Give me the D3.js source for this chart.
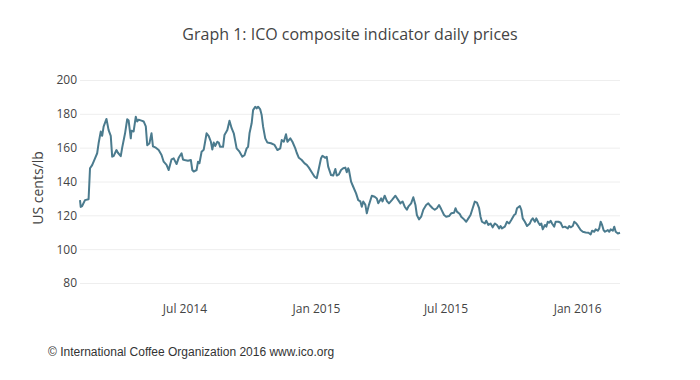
<!DOCTYPE html>
<html>
<head>
<meta charset="utf-8">
<script src="https://cdn.jsdelivr.net/npm/d3@7"></script>
<style>
  html, body { margin: 0; padding: 0; background: #fff; }
  svg { display: block; }
</style>
</head>
<body>
<div id="chart"></div>
<script>
const dates = [
  "2014-02-05","2014-02-06","2014-02-08","2014-02-12","2014-02-17","2014-02-19","2014-02-22","2014-02-26",
  "2014-03-01","2014-03-03","2014-03-06","2014-03-08","2014-03-10","2014-03-14","2014-03-17","2014-03-20",
  "2014-03-22","2014-03-24","2014-03-28","2014-03-30","2014-04-03","2014-04-05","2014-04-09","2014-04-12",
  "2014-04-14","2014-04-17","2014-04-18","2014-04-21","2014-04-24","2014-04-26","2014-04-28","2014-05-02",
  "2014-05-05","2014-05-08","2014-05-10","2014-05-13","2014-05-16","2014-05-18","2014-05-22","2014-05-26",
  "2014-05-30","2014-06-02","2014-06-06","2014-06-09","2014-06-13","2014-06-16","2014-06-20","2014-06-23",
  "2014-06-27","2014-06-29",
  "2014-07-01","2014-07-06","2014-07-10","2014-07-12","2014-07-14","2014-07-18","2014-07-20","2014-07-22",
  "2014-07-25","2014-07-28","2014-08-01","2014-08-04","2014-08-07","2014-08-09","2014-08-11","2014-08-13",
  "2014-08-16","2014-08-18","2014-08-20","2014-08-24","2014-08-26","2014-08-30","2014-09-02","2014-09-05",
  "2014-09-08","2014-09-12","2014-09-16","2014-09-20","2014-09-23","2014-09-26","2014-09-28","2014-09-30",
  "2014-10-03","2014-10-05","2014-10-08","2014-10-10","2014-10-12","2014-10-15","2014-10-17","2014-10-19",
  "2014-10-22","2014-10-25","2014-10-30","2014-11-04","2014-11-08","2014-11-12","2014-11-14","2014-11-17",
  "2014-11-20","2014-11-22","2014-11-26","2014-11-29","2014-12-03",
  "2014-12-05","2014-12-08","2014-12-12","2014-12-16","2014-12-19","2014-12-22","2014-12-26","2014-12-30",
  "2015-01-02","2015-01-04","2015-01-08","2015-01-10","2015-01-14","2015-01-16","2015-01-18","2015-01-22",
  "2015-01-25","2015-01-28","2015-01-30","2015-02-02","2015-02-05","2015-02-08","2015-02-11","2015-02-13",
  "2015-02-15","2015-02-16","2015-02-19","2015-02-22","2015-02-26","2015-03-01","2015-03-04","2015-03-06",
  "2015-03-08","2015-03-11","2015-03-13","2015-03-16","2015-03-20","2015-03-24","2015-03-27","2015-03-29",
  "2015-04-02","2015-04-04","2015-04-07","2015-04-10","2015-04-13","2015-04-17","2015-04-22","2015-04-26",
  "2015-04-29","2015-05-02","2015-05-05",
  "2015-05-08","2015-05-10","2015-05-14","2015-05-17","2015-05-20","2015-05-22","2015-05-25","2015-05-28",
  "2015-05-31","2015-06-04","2015-06-07","2015-06-10","2015-06-13","2015-06-16","2015-06-19","2015-06-22",
  "2015-06-25","2015-06-29","2015-07-02","2015-07-06","2015-07-09","2015-07-13","2015-07-15","2015-07-17",
  "2015-07-21","2015-07-23","2015-07-27","2015-07-30","2015-08-02","2015-08-05","2015-08-08","2015-08-11",
  "2015-08-14","2015-08-17","2015-08-19","2015-08-21","2015-08-25","2015-08-27","2015-08-30","2015-09-02",
  "2015-09-05","2015-09-08","2015-09-11","2015-09-14","2015-09-16","2015-09-18","2015-09-22","2015-09-25",
  "2015-09-28","2015-10-01","2015-10-05","2015-10-07",
  "2015-10-09","2015-10-13","2015-10-15","2015-10-17","2015-10-20","2015-10-23","2015-10-27","2015-10-29",
  "2015-10-31","2015-11-03","2015-11-05","2015-11-08","2015-11-10","2015-11-12","2015-11-14","2015-11-17",
  "2015-11-19","2015-11-21","2015-11-23","2015-11-25","2015-11-27","2015-11-30","2015-12-02","2015-12-06",
  "2015-12-09","2015-12-12","2015-12-15","2015-12-19","2015-12-21","2015-12-23","2015-12-26","2015-12-28",
  "2015-12-31","2016-01-03","2016-01-06","2016-01-09","2016-01-13","2016-01-17","2016-01-20","2016-01-22",
  "2016-01-25","2016-01-27","2016-01-30","2016-02-01","2016-02-03","2016-02-05","2016-02-07","2016-02-09",
  "2016-02-13","2016-02-15","2016-02-17","2016-02-20","2016-02-22","2016-02-24","2016-02-27","2016-03-01"
];
const prices = [
  129,125,125.5,129,129.5,147.8,149.7,153.7,
  156.7,162.6,169.5,167,172.4,177,170.4,167,
  154.7,155,158.6,157,155,160,168.5,176.8,
  176,165.5,170,169.6,178.3,175.5,176.5,176,
  175.5,172.6,161.5,162.5,168.5,160.8,160,158.6,
  155.7,151.7,149.8,146.8,153.1,153.7,150.3,154,
  156.7,153,
  152.7,152.3,152.7,146.8,145.9,146.8,151.7,150.8,
  157.6,158.8,168.5,166.8,163.5,158.9,163,161,
  163.5,163,160.5,160.5,167.5,170.4,175.9,171.5,
  168.5,159.6,157.6,154.7,155.5,159.6,160.5,168.5,
  174.4,182.2,184.2,183.2,184.2,182.6,179.3,172.4,
  165.5,163,162.6,161.6,158.6,159.6,164.5,163.5,
  167.9,163.5,165.5,163.5,159.6,
  157,154,152.7,150.7,149.8,148.2,145.5,142.8,
  141.9,145.8,153.7,155.2,154,154.6,148.8,143.8,
  143.5,147.4,143.5,144.2,146.8,147.8,148.2,145.5,
  147.8,146.8,139.9,136.9,133,129,128.2,125.1,
  128.2,126.2,121.2,126.2,131.6,131,130,127.1,
  130,128.2,131.6,128.5,127.1,129,131.6,129,
  127.1,128.2,125.1,
  123.3,125.1,127.1,130.7,126.1,120.2,117.6,119.2,
  123.3,126.1,127.1,125.5,124.2,123.3,124.2,126.1,
  123.7,120.2,119.2,119.6,121.2,121.5,124.2,122.2,
  120.8,119.2,117.6,116.2,118.2,120.2,124.2,128.1,
  127.5,124.2,119.2,116.2,115.2,116.8,114.3,115.2,
  112.9,115.2,114.3,112.3,113.7,112.3,113.3,116.2,
  115.2,117.2,120.2,120.8,
  124.2,125.5,123.3,118.2,116.2,113.7,115.2,117.2,
  118.2,116.2,118.2,115.6,114.3,115.2,111.7,114.3,
  113.3,116.2,115.6,116.8,115.2,113.3,116.2,116.2,
  115.6,112.9,113.3,112.3,113.7,112.9,113.7,116.2,
  115.2,113.3,111.3,110.3,109.9,109.7,108.7,110.9,
  110.3,111.7,110.9,112.3,116.2,114.3,111.3,110.3,
  111.3,110.3,111.7,110.9,113.3,110.3,109.3,109.7
];
const yTicks = [80, 100, 120, 140, 160, 180, 200];
const xTicks = ["2014-07-01", "2015-01-01", "2015-07-01", "2016-01-01"];
const xTickLabels = ["Jul 2014", "Jan 2015", "Jul 2015", "Jan 2016"];
const titleText = "Graph 1: ICO composite indicator daily prices";
const yTitle = "US cents/lb";
const footerText = "\u00A9 International Coffee Organization 2016 www.ico.org";

const W = 700, H = 380;
const parse = d3.utcParse("%Y-%m-%d");
const data = dates.map((d, i) => ({ date: parse(d), value: prices[i] }));

const svg = d3.select("#chart").append("svg").attr("width", W).attr("height", H);

const x = d3.scaleUtc().domain(d3.extent(data, d => d.date)).range([80, 620]);
const y = d3.scaleLinear().domain([80, 200]).range([283, 80]);

const tickFont = "'Open Sans', sans-serif";
const col = "#444";

// grid
svg.append("g").selectAll("line").data(yTicks).join("line")
  .attr("x1", 80).attr("x2", 620)
  .attr("y1", d => y(d) + 0.5).attr("y2", d => y(d) + 0.5)
  .attr("stroke", "#eee").attr("stroke-width", 1);

// y axis
const yAxis = d3.axisLeft(y).tickValues(yTicks).tickSize(0).tickPadding(3);
svg.append("g").attr("transform", "translate(80,0)").call(yAxis)
  .call(g => g.select(".domain").remove())
  .call(g => g.selectAll("text").attr("font-family", tickFont).attr("font-size", 12).attr("fill", col));

// x axis
const xAxis = d3.axisBottom(x).tickValues(xTicks.map(parse)).tickSize(0).tickPadding(0)
  .tickFormat((d, i) => xTickLabels[i]);
svg.append("g").attr("transform", "translate(0,300)").call(xAxis)
  .call(g => g.select(".domain").remove())
  .call(g => g.selectAll("text").attr("font-family", tickFont).attr("font-size", 12).attr("fill", col)
    .attr("dy", "0.71em").attr("y", 4));

// line
const line = d3.line().x(d => x(d.date)).y(d => y(d.value));
svg.append("path").datum(data)
  .attr("d", line)
  .attr("fill", "none")
  .attr("stroke", "#4b7b8e")
  .attr("stroke-width", 2)
  .attr("stroke-linejoin", "round");

// title
svg.append("text").attr("x", 350).attr("y", 40).attr("text-anchor", "middle")
  .attr("font-family", tickFont).attr("font-size", 16).attr("fill", col).text(titleText);

// y title
svg.append("text").attr("transform", "translate(43,188) rotate(-90)").attr("text-anchor", "middle")
  .attr("font-family", tickFont).attr("font-size", 14).attr("fill", col).text(yTitle);

// footer
svg.append("text").attr("x", 48).attr("y", 356)
  .attr("font-family", "'Liberation Sans', Arial, sans-serif").attr("font-size", 12).attr("fill", "#333").text(footerText);
</script>
</body>
</html>
